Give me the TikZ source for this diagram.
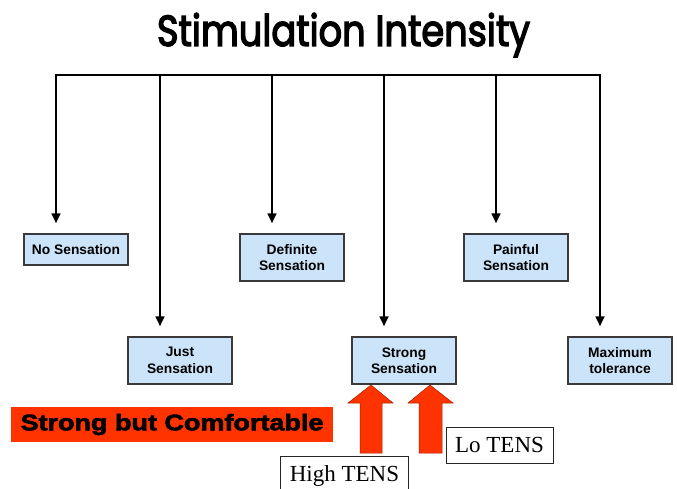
\documentclass[tikz,border=0pt]{standalone}
\usepackage{fontspec}
\setmainfont{Liberation Serif}
\newfontfamily\arialf{Liberation Sans}
\newfontfamily\heavyf[FakeBold=2.5]{Liberation Sans Bold}
\newfontfamily\titlef[FakeBold=3.5]{Poppins}
\usetikzlibrary{arrows.meta}
\definecolor{boxblue}{HTML}{CCE4FA}
\definecolor{boxedge}{HTML}{3A3A3A}
\definecolor{hotred}{HTML}{FF3300}
\definecolor{redline}{HTML}{A02000}
\tikzset{
  stage/.style={draw=boxedge, line width=1.2pt, fill=boxblue, minimum width=104pt,
    align=center, inner sep=0pt, font=\arialf\bfseries\fontsize{13.8}{16.5}\selectfont},
  tall/.style={stage, minimum height=47pt},
  short/.style={stage, minimum height=31pt},
  feed/.style={line width=2.6pt, black},
  feedarr/.style={feed, -{Triangle[width=8.5pt,length=10pt]}},
  tenslabel/.style={draw=black!85, line width=0.9pt, fill=white, inner sep=0pt,
    font=\fontsize{23}{26}\selectfont},
  bigarrow/.style={fill=hotred, draw=redline, line width=0.5pt}
}
\begin{document}
\begin{tikzpicture}[x=1pt,y=-1pt]
\useasboundingbox (0,0) rectangle (677,489);
% title
\node (title) at (343.5,35) {\resizebox*{373pt}{44pt}{\titlef Stimulation Intensity}};
% boxes
\node[short] (none)  at (76,249.5)  {No Sensation};
\node[tall]  (def)   at (292,257.5) {Definite\\Sensation};
\node[tall]  (pain)  at (516,257.5) {Painful\\Sensation};
\node[tall]  (just)  at (180,360.5) {Just\\Sensation};
\node[tall]  (strong) at (404,360.5) {Strong\\Sensation};
\node[tall]  (max)   at (620,360.5) {Maximum\\tolerance};
% top bar coordinates
\coordinate (bar) at (0,75);
\foreach \n in {none,just,def,strong,pain,max}{
  \coordinate (t-\n) at ([xshift=-20pt]\n.north |- bar);
}
\draw[feed, line cap=rect] (t-none) -- (t-max);
\foreach \n in {none,just,def,strong,pain,max}{
  \draw[feedarr] (t-\n) -- ([yshift=10pt]t-\n |- \n.north);
}
% red arrows
\draw[bigarrow] (360,453) -- (360,403) -- (348,403) -- (371,385) -- (393,403) -- (382,403) -- (382,453) -- cycle;
\draw[bigarrow] (419,453) -- (419,403) -- (408,403) -- (430,385) -- (453,403) -- (442,403) -- (442,453) -- cycle;
% labels
\node[fill=hotred, minimum width=322pt, minimum height=35pt, inner sep=0pt] (comf) at (172,424.5)
  {\scalebox{1.2}[1]{\heavyf\fontsize{22.5}{26}\selectfont Strong but Comfortable}};
\node[tenslabel, minimum width=107pt, minimum height=36pt] (lo) at (499.5,445) {Lo TENS};
\node[tenslabel, minimum width=128pt, minimum height=40pt, anchor=north west] (high) at (280,456) {High TENS};
\end{tikzpicture}
\end{document}
